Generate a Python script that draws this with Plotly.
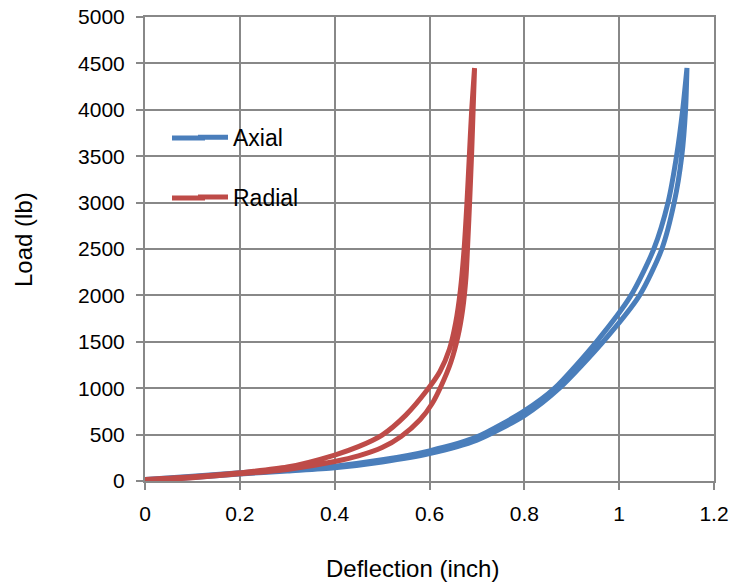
import plotly.graph_objects as go

# ---- data ----
# Axial: loading branch (lower/right) then unloading branch (upper/left)
axial_up_x = [0.0, 0.1, 0.2, 0.3, 0.4, 0.5, 0.6, 0.7, 0.8, 0.874, 0.966, 1.043, 1.09, 1.116, 1.132, 1.14, 1.143]
axial_up_y = [0, 38, 75, 108, 142, 205, 295, 440, 705, 1000, 1500, 2000, 2500, 3000, 3500, 4000, 4450]
axial_dn_x = [1.143, 1.134, 1.121, 1.103, 1.073, 1.025, 0.952, 0.864, 0.8, 0.7, 0.6, 0.5, 0.4, 0.3, 0.2, 0.1, 0.0]
axial_dn_y = [4450, 4000, 3500, 3000, 2500, 2000, 1500, 1000, 755, 475, 325, 228, 160, 120, 88, 50, 15]

# Radial: loading branch (lower/right) then unloading branch (upper/left)
radial_up_x = [0.0, 0.1, 0.2, 0.3, 0.4, 0.45, 0.5, 0.54, 0.58, 0.605, 0.625, 0.645, 0.66, 0.67, 0.677, 0.681, 0.685, 0.689, 0.692, 0.695]
radial_up_y = [0, 35, 78, 125, 210, 270, 360, 480, 660, 830, 1030, 1280, 1560, 1850, 2200, 2600, 3050, 3550, 4000, 4450]
radial_dn_x = [0.695, 0.689, 0.684, 0.679, 0.673, 0.665, 0.655, 0.642, 0.622, 0.595, 0.55, 0.5, 0.45, 0.4, 0.3, 0.2, 0.1, 0.0]
radial_dn_y = [4450, 4000, 3500, 3000, 2500, 2050, 1700, 1420, 1180, 980, 710, 495, 370, 280, 150, 88, 45, 15]

series_names = ["Axial", "Radial"]
series_colors = ["#4A7EBB", "#BE4B48"]

x_ticks = [0, 0.2, 0.4, 0.6, 0.8, 1, 1.2]
x_tick_labels = ["0", "0.2", "0.4", "0.6", "0.8", "1", "1.2"]
y_ticks = list(range(0, 5001, 500))

FONT = "Arial, Liberation Sans, sans-serif"
GRID = "#888888"

fig = go.Figure()
series = [
    (axial_up_x + axial_dn_x, axial_up_y + axial_dn_y),
    (radial_up_x + radial_dn_x, radial_up_y + radial_dn_y),
]
for i, (xs, ys) in enumerate(series):
    fig.add_trace(go.Scatter(
        x=xs, y=ys, mode="lines", name=series_names[i],
        legendgroup=series_names[i],
        line=dict(color=series_colors[i], width=5, shape="spline", smoothing=0.7),
    ))

PW, PH = 569, 464  # plot area size used for paper-coordinate conversions
LX0, LY0 = 145, 481  # plot area origin in reference pixels

def px(xp):
    return (xp - LX0) / PW

def py(yp):
    return (LY0 - yp) / PH

legend_shapes = [dict(type="rect", xref="paper", yref="paper",
                      x0=px(147), x1=px(324), y0=py(230), y1=py(105),
                      fillcolor="white", line=dict(width=0), layer="between")]
# extend the legend line samples to the left, as in the reference
for i, yy in enumerate([138, 198]):
    legend_shapes.append(dict(type="line", xref="paper", yref="paper",
                              x0=px(172), x1=px(205), y0=py(yy), y1=py(yy),
                              line=dict(color=series_colors[i], width=5), layer="above"))

fig.update_layout(
    width=750, height=584,
    margin=dict(l=145, r=36, t=17, b=103, autoexpand=False),
    paper_bgcolor="white", plot_bgcolor="white",
    font=dict(family=FONT, color="black", size=21),
    legend=dict(
        x=px(193), y=0.7872, xanchor="left", yanchor="top",
        bgcolor="rgba(0,0,0,0)", borderwidth=0,
        font=dict(size=23, family=FONT, color="black"),
        tracegroupgap=27, traceorder="grouped",
    ),
    shapes=legend_shapes,
    annotations=[
        dict(text="Deflection (inch)", xref="paper", yref="paper",
             x=px(412.5), y=py(568),
             xanchor="center", yanchor="middle", showarrow=False,
             font=dict(size=24, family=FONT, color="black")),
        dict(text="Load (lb)", xref="paper", yref="paper",
             x=px(23), y=py(240), textangle=-90,
             xanchor="center", yanchor="middle", showarrow=False,
             font=dict(size=24, family=FONT, color="black")),
    ],
)
fig.update_xaxes(
    range=[0, 1.2], tickvals=x_ticks, ticktext=x_tick_labels,
    showgrid=True, gridcolor=GRID, gridwidth=2,
    showline=True, linecolor=GRID, linewidth=2, mirror=True,
    ticks="outside", ticklen=7, tickwidth=2, tickcolor=GRID,
    ticklabelstandoff=6, automargin=False, ticklabeloverflow="allow",
    zeroline=False, fixedrange=True,
)
fig.update_yaxes(
    range=[0, 5000], tickvals=y_ticks,
    showgrid=True, gridcolor=GRID, gridwidth=2,
    showline=True, linecolor=GRID, linewidth=2, mirror=True,
    ticks="outside", ticklen=7, tickwidth=2, tickcolor=GRID,
    ticklabelstandoff=7, automargin=False, ticklabeloverflow="allow",
    zeroline=False, fixedrange=True,
)

fig.write_html("out.html", config={"displayModeBar": False},
               post_script="document.body.style.margin='0';")
